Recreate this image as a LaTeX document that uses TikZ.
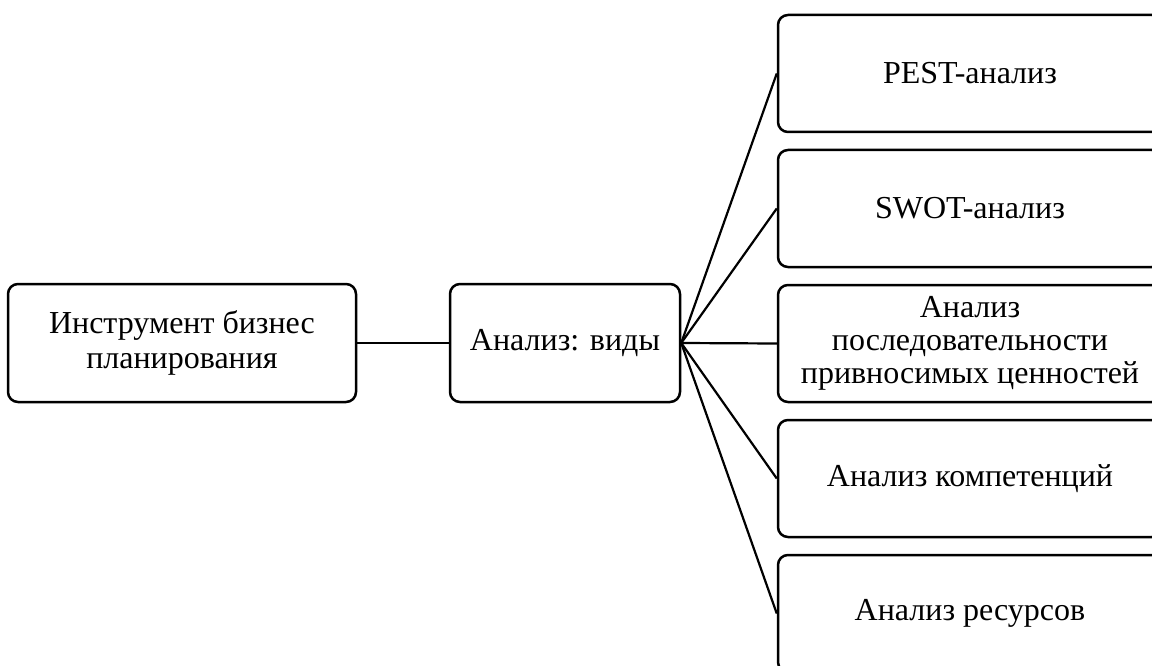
\documentclass[tikz,border=0pt]{standalone}
\usepackage{fontspec}
\setmainfont{Liberation Serif}
\begin{document}
\begin{tikzpicture}[x=1pt,y=-1pt,
  box/.style={draw,line width=2.5pt,rounded corners=10pt,align=center,
    minimum height=117pt,inner sep=0pt,font=\fontsize{32}{33}\selectfont},
  kind/.style={box,minimum width=384pt},
  link/.style={line width=2.2pt}]
\useasboundingbox (0,0) rectangle (1152,666);
\clip (0,0) rectangle (1152,666);
\node[box,minimum width=348pt,minimum height=118pt,font=\fontsize{32}{35}\selectfont] (tool) at (182,343) {Инструмент бизнес\\планирования};
\node[box,minimum width=230pt,minimum height=118pt] (kinds) at (565,343) {Анализ: виды};
\node[kind] (pest) at (970,73.5) {PEST-анализ};
\node[kind] (swot) at (970,208.5) {SWOT-анализ};
\node[kind] (chain) at (970,343.5) {Анализ\\последовательности\\привносимых ценностей};
\node[kind] (comp) at (970,478.5) {Анализ компетенций};
\node[kind] (res) at (970,613.5) {Анализ ресурсов};
\draw[link] (tool.east) -- (kinds.west);
\draw[link] (kinds.east) -- (pest.west);
\draw[link] (kinds.east) -- (swot.west);
\draw[link] (kinds.east) -- (chain.west);
\draw[link] (kinds.east) -- (comp.west);
\draw[link] (kinds.east) -- (res.west);
\end{tikzpicture}
\end{document}
